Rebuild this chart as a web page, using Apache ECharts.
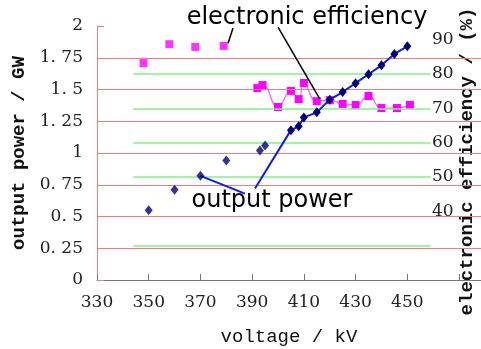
<!DOCTYPE html>
<html><head><meta charset="utf-8">
<script src="https://cdn.jsdelivr.net/npm/echarts@6/dist/echarts.min.js"></script>
<style>html,body{margin:0;padding:0;background:#fff}#c{width:481px;height:349px}</style>
</head><body><div id="c"></div>
<script>
// ---- data ----
const xLabelValues = [330, 350, 370, 390, 410, 430, 450];
const xTickValues = [330, 350, 370, 390, 410, 430, 450, 470];
const rightLabelValues = [40, 50, 60, 70, 80, 90];
const redLevels = [0.25, 0.5, 0.75, 1, 1.25, 1.5, 1.75];
const greenLevels = [30, 50, 60, 70, 80];

const powerScatterVoltage = [350, 360, 370, 380, 393, 395];
const powerScatterValue   = [0.55, 0.71, 0.82, 0.94, 1.02, 1.06];
const powerLineVoltage = [405, 408, 410, 415, 420, 425, 430, 435, 440, 445, 450];
const powerLineValue   = [1.18, 1.21, 1.28, 1.32, 1.42, 1.48, 1.55, 1.62, 1.69, 1.78, 1.84];

const effScatterVoltage = [348, 358, 368, 379];
const effScatterValue   = [83.2, 88.7, 87.9, 88.2];
const effLineVoltage = [392, 394, 400, 405, 408, 410, 415, 420, 425, 430, 435, 440, 446, 451];
const effLineValue   = [75.9, 76.8, 70.4, 75.1, 72.7, 77.4, 72.1, 72.4, 71.3, 71.0, 73.6, 70.1, 70.1, 71.0];

const blueLeaders = [[[370, 0.82], [387.2, 0.68]], [[391.1, 0.72], [405, 1.18]]];
const blackLeaders = [[[400.0, 93.7], [416.2, 72.7]], [[382.6, 93.4], [380.7, 89.0]]];

const zip = (a, b) => a.map((v, i) => [v, b[i]]);
const serif = '"DejaVu Serif", serif';
const mono = '"Liberation Mono", monospace';
const RED = '#f47b7b', GREEN = '#86ee86';

const chart = echarts.init(document.getElementById('c'), null, {renderer: 'canvas'});
chart.setOption({
  animation: false,
  backgroundColor: '#fff',
  grid: {left: 97, right: 0, top: 26, bottom: 69, containLabel: false, outerBoundsMode: 'none'},
  xAxis: {
    type: 'value', min: 330, max: 478.5,
    name: 'voltage / kV', nameLocation: 'middle', nameGap: 47,
    nameTextStyle: {fontFamily: mono, fontSize: 19, color: '#111'},
    axisLine: {show: true, lineStyle: {color: '#777', width: 1}},
    axisTick: {show: true, inside: true, length: 6, lineStyle: {color: '#777'}, customValues: xTickValues},
    axisLabel: {customValues: xLabelValues, fontFamily: serif, fontSize: 17, color: '#222', margin: 14},
    splitLine: {show: false}
  },
  yAxis: [{
    type: 'value', min: 0, max: 2, interval: 0.25, position: 'left',
    name: 'output power / GW', nameLocation: 'middle', nameGap: 66, nameRotate: 90,
    nameTextStyle: {fontFamily: mono, fontSize: 19, color: '#111', fontWeight: 'bold'},
    axisLine: {show: true, lineStyle: {color: RED, width: 1}},
    axisTick: {show: true, inside: true, length: 7, lineStyle: {color: RED}},
    axisLabel: {fontFamily: serif, fontSize: 17, color: '#222', margin: 14,
      formatter: v => String(v).replace('.', '. ')},
    splitLine: {show: false}
  }, {
    type: 'value', min: 20, max: 94, interval: 10, position: 'right', offset: -53,
    name: 'electronic efficiency / (%)', nameLocation: 'middle', nameGap: 30, nameRotate: 90,
    nameMoveOverlap: false,
    nameTextStyle: {fontFamily: mono, fontSize: 19, color: '#111', fontWeight: 'bold', padding: [0, 17, 0, 0]},
    axisLine: {show: false}, axisTick: {show: false},
    axisLabel: {customValues: rightLabelValues, fontFamily: serif, fontSize: 17, color: '#222', margin: 4,
      padding: [8, 0, 0, 0]},
    splitLine: {show: false}
  }],
  graphic: [
    {type: 'text', x: 307, y: 18, style: {text: 'electronic efficiency', font: '24px "DejaVu Sans"', fill: '#000', align: 'center', verticalAlign: 'middle'}},
    {type: 'text', x: 272, y: 201, style: {text: 'output power', font: '24px "DejaVu Sans"', fill: '#000', align: 'center', verticalAlign: 'middle'}}
  ],
  series: [
    {name: 'redgrid', type: 'line', data: [], yAxisIndex: 0, z: 1,
      markLine: {silent: true, symbol: 'none', label: {show: false},
        lineStyle: {color: RED, type: 'solid', width: 1},
        data: redLevels.map(v => ({yAxis: v}))}},
    {name: 'greengrid', type: 'line', data: [], yAxisIndex: 1, z: 1,
      markLine: {silent: true, symbol: 'none', label: {show: false},
        lineStyle: {color: GREEN, type: 'solid', width: 1.5},
        data: greenLevels.map(v => [{coord: [344, v]}, {coord: [459, v]}])}},
    {name: 'output power (points)', type: 'scatter', yAxisIndex: 0, z: 5,
      symbol: 'diamond', symbolSize: [8, 10], itemStyle: {color: '#00007a'},
      data: zip(powerScatterVoltage, powerScatterValue)},
    {name: 'output power', type: 'line', yAxisIndex: 0, z: 5,
      symbol: 'diamond', symbolSize: [8, 10], itemStyle: {color: '#00007a'},
      lineStyle: {color: '#0a1ee6', width: 2},
      data: zip(powerLineVoltage, powerLineValue),
      markLine: {silent: true, symbol: 'none', label: {show: false},
        lineStyle: {color: '#0a1ee6', type: 'solid', width: 2},
        data: blueLeaders.map(s => [{coord: s[0]}, {coord: s[1]}])}},
    {name: 'electronic efficiency (points)', type: 'scatter', yAxisIndex: 1, z: 4,
      symbol: 'rect', symbolSize: 8, itemStyle: {color: '#ff00ff'},
      data: zip(effScatterVoltage, effScatterValue)},
    {name: 'electronic efficiency', type: 'line', yAxisIndex: 1, z: 4, smooth: 0.5,
      symbol: 'rect', symbolSize: 8, itemStyle: {color: '#ff00ff'},
      lineStyle: {color: '#ff60ff', width: 1.3},
      data: zip(effLineVoltage, effLineValue),
      markLine: {silent: true, symbol: 'none', label: {show: false},
        lineStyle: {color: '#000', type: 'solid', width: 1.5},
        data: blackLeaders.map(s => [{coord: s[0]}, {coord: s[1]}])}}
  ]
});
</script></body></html>
